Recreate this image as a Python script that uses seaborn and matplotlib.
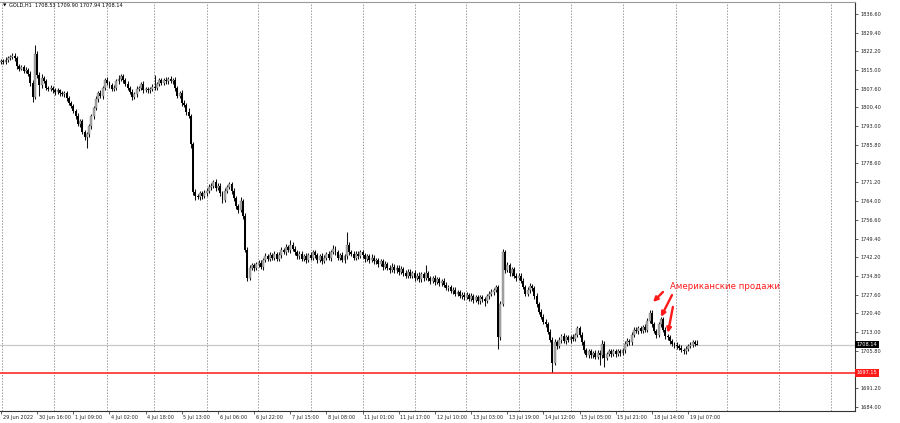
import numpy as np
import pandas as pd
import matplotlib
matplotlib.use("Agg")
import matplotlib.pyplot as plt
import matplotlib.transforms as mtransforms
import seaborn as sns

# ---------------- data ----------------
first_open = 1818.0
closes = [
    1818.5, 1818, 1819, 1819.5, 1820, 1820.5, 1819.5, 1816.5, 1815.5, 1816,
    1814.5, 1815, 1813.5, 1810, 1804.5, 1821, 1813, 1809, 1812, 1810.5,
    1808, 1807.5, 1808, 1807, 1806.5, 1807, 1806, 1805.5, 1806, 1804,
    1802, 1801, 1799, 1797, 1794, 1795, 1791, 1789, 1790, 1793,
    1797, 1800, 1803.5, 1806, 1805, 1808, 1811, 1810, 1809, 1807.5,
    1808, 1810.5, 1811.5, 1812.5, 1811, 1809.5, 1808, 1806.5, 1804.5, 1805.5,
    1807.5, 1808, 1809.5, 1807, 1807.5, 1807, 1807.5, 1808.5, 1808, 1809.5,
    1811, 1810, 1811, 1810.5, 1811.5, 1810.5, 1811, 1808, 1805, 1806,
    1802, 1801.5, 1798.5, 1797, 1786, 1767.5, 1766, 1765.5, 1767, 1766,
    1767, 1768, 1769.5, 1770, 1771.5, 1769, 1770, 1767, 1764.5, 1768,
    1769.5, 1770.5, 1768, 1765, 1762, 1760.5, 1764, 1758, 1745, 1734,
    1738, 1739, 1738, 1739.5, 1740, 1738.5, 1741, 1742.5, 1741.5, 1743,
    1742, 1743.5, 1741.5, 1743, 1745, 1744, 1746, 1745, 1747, 1745.5,
    1744, 1742.5, 1743.5, 1741.5, 1742.5, 1741, 1743, 1742, 1744, 1743,
    1741, 1742.5, 1740.5, 1742, 1743.5, 1742, 1744, 1745.5, 1744, 1742,
    1743, 1741, 1742.5, 1747, 1744, 1743.5, 1742, 1743.5, 1742.5, 1744,
    1743, 1741.5, 1742.5, 1741, 1742, 1740.5, 1741, 1739.5, 1740.5, 1738.5,
    1739.5, 1738, 1737, 1738.5, 1737, 1738, 1736.5, 1737.5, 1736, 1735,
    1736.5, 1735, 1736, 1734, 1735, 1733.5, 1735.5, 1734, 1736, 1734,
    1733, 1734, 1732.5, 1733.5, 1732, 1733, 1731.5, 1730, 1730.5, 1729,
    1729.5, 1728, 1728.5, 1727, 1727.5, 1726.5, 1727.5, 1726, 1727, 1725.5,
    1726.5, 1725, 1726.5, 1726, 1725, 1727, 1728, 1728.5, 1729.5, 1730.5,
    1711, 1724, 1744, 1737, 1739, 1736, 1737.5, 1735, 1734, 1735,
    1733, 1730.5, 1728, 1729.5, 1731, 1730, 1727, 1724, 1721, 1719,
    1717, 1716, 1713, 1710, 1701, 1709, 1707.5, 1710, 1711.5, 1709.5,
    1711, 1710, 1711, 1710.5, 1712, 1714.5, 1712, 1709, 1706, 1704,
    1705.5, 1704, 1705, 1703.5, 1705, 1704, 1708.5, 1703, 1704.5, 1705.5,
    1704.5, 1705.5, 1704.5, 1705.5, 1705, 1706, 1708.5, 1709.5, 1709, 1712,
    1714, 1713.5, 1714.5, 1713.5, 1715, 1714, 1717.5, 1720.5, 1716, 1713.5,
    1712, 1716, 1718, 1714, 1711.5, 1711, 1709.5, 1708.5, 1708, 1707.5,
    1707, 1706, 1705.5, 1706.5, 1707.5, 1708, 1709, 1708.53, 1708.14,
]
wick_up = [
    0.8, 0.6, 1.0, 0.7, 0.9, 1.2, 1.0, 0.8, 0.6, 0.9,
    0.7, 1.0, 0.8, 0.9, 1.2, 3.7, 1.5, 1.0, 1.3, 0.8,
    0.9, 0.7, 1.0, 0.6, 0.8, 1.1, 0.7, 0.9, 0.8, 0.6,
    1.0, 0.8, 0.7, 0.9, 1.2, 0.8, 1.0, 0.7, 0.9, 1.1,
    1.0, 0.8, 1.3, 0.9, 1.2, 0.8, 1.0, 1.1, 0.7, 0.9,
    1.0, 0.8, 1.5, 0.9, 0.7, 0.8, 1.0, 0.6, 0.9, 1.0,
    1.1, 0.8, 0.9, 1.2, 0.7, 0.8, 1.0, 0.9, 4.5, 0.8,
    1.0, 0.9, 0.8, 1.2, 0.7, 1.0, 0.8, 1.1, 0.9, 0.8,
    1.0, 1.2, 0.8, 1.5, 0.9, 1.0, 1.3, 0.8, 1.0, 0.7,
    1.2, 0.9, 1.0, 0.8, 0.6, 1.1, 0.9, 1.0, 0.8, 1.2,
    0.9, 0.8, 1.0, 0.9, 1.1, 0.7, 1.5, 0.9, 1.2, 1.0,
    1.1, 0.9, 1.0, 0.8, 1.2, 0.9, 1.0, 1.3, 0.8, 1.1,
    0.9, 1.0, 0.8, 1.2, 1.0, 0.9, 1.1, 0.8, 2.0, 0.9,
    1.0, 0.8, 1.1, 0.9, 1.0, 1.2, 0.8, 1.0, 0.9, 1.1,
    0.8, 1.0, 1.2, 0.9, 0.8, 1.1, 1.0, 1.5, 0.9, 1.0,
    0.8, 1.1, 0.9, 5.0, 1.0, 0.8, 1.2, 0.9, 1.0, 0.8,
    1.1, 0.9, 1.0, 0.8, 1.2, 0.9, 1.0, 0.8, 1.1, 0.9,
    1.0, 0.8, 0.9, 1.2, 0.8, 1.0, 0.9, 1.1, 0.8, 1.0,
    0.9, 1.1, 0.8, 1.0, 0.9, 1.2, 0.8, 1.0, 3.0, 0.9,
    1.0, 0.8, 1.1, 0.9, 1.0, 0.8, 1.2, 0.9, 1.0, 0.8,
    1.1, 0.9, 1.0, 0.8, 1.2, 0.9, 1.0, 0.8, 1.1, 0.9,
    1.0, 0.8, 0.9, 1.1, 0.8, 1.0, 0.9, 1.2, 0.8, 1.0,
    0.8, 1.0, 1.5, 0.9, 1.2, 0.8, 1.0, 0.9, 1.1, 0.8,
    1.0, 0.9, 0.8, 1.1, 1.0, 0.8, 0.9, 1.2, 0.8, 1.0,
    0.9, 1.0, 0.8, 1.1, 0.9, 1.2, 0.8, 1.0, 0.9, 1.1,
    0.8, 1.0, 0.9, 1.2, 0.8, 0.8, 1.0, 0.9, 1.1, 0.8,
    1.0, 0.9, 0.8, 1.1, 1.0, 0.9, 1.5, 1.0, 0.8, 0.9,
    1.0, 0.8, 0.9, 1.1, 0.8, 1.0, 0.9, 1.2, 0.8, 1.0,
    0.9, 1.1, 0.8, 1.0, 0.9, 1.2, 0.8, 1.1, 1.0, 0.9,
    0.8, 1.0, 1.0, 0.9, 1.1, 0.8, 1.0, 0.9, 0.8, 1.0,
    0.9, 0.8, 1.0, 0.9, 0.8, 1.1, 0.9, 0.8, 1.37,
]
wick_dn = [
    0.7, 0.9, 0.6, 1.0, 0.8, 0.7, 0.9, 1.0, 0.8, 0.7,
    0.9, 0.8, 1.0, 1.2, 2.0, 0.9, 1.0, 4.0, 1.1, 0.8,
    1.0, 0.8, 0.7, 0.9, 1.1, 0.8, 1.0, 0.7, 0.9, 1.2,
    0.8, 1.0, 0.9, 1.1, 0.8, 1.2, 0.9, 1.3, 4.4, 1.0,
    0.9, 1.1, 0.8, 1.0, 0.9, 1.2, 0.8, 1.0, 0.9, 0.7,
    0.8, 1.0, 0.9, 0.8, 1.1, 0.9, 1.0, 0.8, 1.2, 0.9,
    1.0, 0.8, 0.9, 1.1, 0.8, 1.0, 0.9, 0.7, 1.0, 0.8,
    0.9, 1.0, 0.8, 1.1, 0.9, 0.8, 1.0, 1.2, 0.9, 1.0,
    1.1, 0.8, 1.0, 0.9, 1.5, 1.2, 1.5, 0.9, 1.0, 1.3,
    0.8, 1.0, 0.9, 1.1, 0.8, 1.0, 0.9, 1.2, 1.4, 0.9,
    1.0, 0.8, 1.1, 0.9, 1.2, 1.0, 0.9, 1.1, 1.0, 1.3,
    0.9, 1.0, 1.1, 0.8, 1.0, 0.9, 1.2, 0.8, 1.0, 0.9,
    1.1, 0.8, 1.0, 0.9, 1.2, 0.8, 1.0, 0.9, 1.1, 0.8,
    1.0, 1.2, 0.9, 1.0, 0.8, 1.1, 0.9, 1.0, 0.8, 1.2,
    1.0, 0.9, 1.1, 0.8, 1.0, 0.9, 1.2, 0.8, 1.0, 0.9,
    1.1, 0.8, 1.0, 0.9, 1.2, 0.8, 1.0, 0.9, 1.1, 0.8,
    1.0, 1.2, 0.9, 1.0, 0.8, 1.1, 0.9, 1.0, 0.8, 1.2,
    0.9, 1.0, 1.1, 0.8, 1.0, 0.9, 1.2, 0.8, 1.0, 1.1,
    0.8, 1.0, 0.9, 1.2, 0.8, 1.0, 0.9, 1.1, 0.8, 1.0,
    1.2, 0.9, 1.0, 0.8, 1.1, 0.9, 1.0, 0.8, 1.2, 0.9,
    1.0, 0.8, 1.1, 0.9, 1.0, 1.2, 0.8, 1.0, 0.9, 1.1,
    0.8, 1.0, 0.9, 1.2, 2.0, 0.8, 1.0, 0.9, 1.1, 0.8,
    4.5, 1.0, 0.9, 1.1, 0.8, 1.0, 1.2, 0.9, 1.0, 0.8,
    1.1, 0.9, 1.0, 0.8, 1.2, 0.9, 1.0, 1.1, 0.8, 1.0,
    0.9, 1.2, 0.8, 1.0, 3.7, 0.9, 1.0, 0.8, 1.1, 0.9,
    1.0, 0.8, 1.2, 0.9, 1.0, 0.8, 1.1, 0.9, 1.0, 0.8,
    1.2, 0.9, 1.0, 0.8, 1.1, 4.0, 0.9, 3.7, 1.0, 0.8,
    1.1, 0.9, 1.0, 0.8, 1.2, 0.9, 1.0, 0.8, 1.1, 0.9,
    1.0, 0.8, 1.2, 0.9, 1.0, 0.8, 1.1, 0.9, 1.0, 0.8,
    1.2, 0.9, 1.0, 0.8, 1.1, 0.9, 1.0, 0.8, 1.2, 0.9,
    1.0, 0.8, 1.1, 0.9, 1.0, 0.8, 0.9, 1.0, 0.2,
]
time_labels = ["29 Jun 2022", "30 Jun 16:00", "1 Jul 09:00", "4 Jul 02:00",
               "4 Jul 18:00", "5 Jul 13:00", "6 Jul 06:00", "6 Jul 22:00",
               "7 Jul 15:00", "8 Jul 08:00", "11 Jul 01:00", "11 Jul 17:00",
               "12 Jul 10:00", "13 Jul 03:00", "13 Jul 19:00", "14 Jul 12:00",
               "15 Jul 05:00", "15 Jul 21:00", "18 Jul 14:00", "19 Jul 07:00"]
price_ticks = [1836.6, 1829.4, 1822.2, 1815.0, 1807.6, 1800.4, 1793.0, 1785.8,
               1778.6, 1771.2, 1764.0, 1756.6, 1749.4, 1742.2, 1734.8, 1727.6,
               1720.4, 1713.0, 1705.8, 1698.4, 1691.2, 1684.0]
last_price = 1708.14
level_price = 1697.15
header = "GOLD,H1  1708.53 1709.90 1707.94 1708.14"
note_text = "Американские продажи"

# ---------------- build OHLC frame ----------------
n = min(len(closes), len(wick_up), len(wick_dn))
closes = closes[:n]
opens = [first_open] + closes[:-1]
df = pd.DataFrame({"o": opens, "c": closes,
                   "wu": wick_up[:n], "wd": wick_dn[:n]})
df["i"] = np.arange(n)
df["top"] = df[["o", "c"]].max(axis=1)
df["bot"] = df[["o", "c"]].min(axis=1)
df["h"] = df["top"] + df["wu"]
df["l"] = df["bot"] - df["wd"]
df["bull"] = df["c"] >= df["o"]
df["body"] = (df["top"] - df["bot"]).clip(lower=0.35)

# ---------------- figure ----------------
sns.set_theme(style="white")
plt.rcParams["font.family"] = ["DejaVu Sans"]
W, H = 900, 423
fig = plt.figure(figsize=(W / 100, H / 100), dpi=100)
fig.patch.set_facecolor("white")
ax = fig.add_axes([0, 12 / H, 855 / W, (411 - 2) / H])
ax.set_facecolor("white")

bar_px = 2.26
ax.set_xlim(-1 / bar_px, 854 / bar_px)
ax.set_ylim(1682.3, 1841.4)

# vertical dotted grid (terminal's own spacing)
for gx in [0.3, 23.5, 46.9, 67.7, 91.2, 113.7, 137.2, 160.2, 183.2, 205.8,
           229.2, 252.2, 275.2, 298.7, 321.2, 344.2, 367.3]:
    ax.axvline(gx, color="#9a9a9a", lw=0.7, ls=(0, (1.5, 1.5)), zorder=0)

# horizontal lines
ax.axhline(last_price, color="#c8c8c8", lw=0.9, zorder=1)
ax.axhline(level_price, color="#ff1a1a", lw=1.1, zorder=1)

# candles: wicks + bodies
ax.vlines(df["i"], df["l"], df["h"], color="#111111", lw=0.75, zorder=2)
bull = df[df["bull"]]
bear = df[~df["bull"]]
ax.bar(bull["i"], bull["body"], bottom=bull["bot"], width=0.85,
       color="#a9a9a9", edgecolor="#6a6a6a", linewidth=0.25, zorder=3)
ax.bar(bear["i"], bear["body"], bottom=bear["bot"], width=0.85,
       color="#000000", linewidth=0, zorder=3)

# axes styling
ax.spines["left"].set_visible(False)
ax.spines["top"].set_color("#9a9a9a")
ax.spines["top"].set_linewidth(0.8)
for s in ["right", "bottom"]:
    ax.spines[s].set_color("#333333")
    ax.spines[s].set_linewidth(0.8)

ax.yaxis.tick_right()
ax.set_yticks(price_ticks)
ax.set_yticklabels(["" if abs(v - level_price) < 2 else f"{v:.2f}"
                    for v in price_ticks])
ax.tick_params(axis="y", which="both", right=True, left=False, length=2.2,
               width=0.5, pad=1.5, labelsize=3.6, colors="#222222")

xt = np.arange(len(time_labels)) * 16
ax.set_xticks(xt)
ax.set_xticklabels(time_labels, ha="left")
ax.tick_params(axis="x", which="both", bottom=True, length=2.2, width=0.5,
               pad=0.8, labelsize=3.6, colors="#222222")
offset = mtransforms.ScaledTranslation(1.2 / 72, 0, fig.dpi_scale_trans)
for lab in ax.get_xticklabels():
    lab.set_transform(lab.get_transform() + offset)
ax.grid(False)

# price tags on right axis
trans = mtransforms.blended_transform_factory(ax.transAxes, ax.transData)
ax.text(1.002, last_price, f"{last_price:.2f}", transform=trans, fontsize=3.6,
        color="white", va="center", ha="left", zorder=5, clip_on=False,
        bbox=dict(boxstyle="square,pad=0.25", fc="black", ec="black", lw=0))
ax.text(1.002, level_price, f"{level_price:.2f}", transform=trans, fontsize=3.6,
        color="white", va="center", ha="left", zorder=5, clip_on=False,
        bbox=dict(boxstyle="square,pad=0.25", fc="#ff1a1a", ec="#ff1a1a", lw=0))

# header
fig.text(3 / W, 1 - 5.5 / H, "\u25BC", fontsize=3.2, color="black",
         va="center", ha="left")
fig.text(9 / W, 1 - 5.5 / H, header, fontsize=3.6, color="black",
         va="center", ha="left")

# annotation: text and red arrows
ax.text(295.8, 1730.6, note_text, color="#ff1a1a", fontsize=6.2,
        va="center", ha="left", zorder=6)
arrows = [((292.9, 1728.6), (288.5, 1724.7)),
          ((296.9, 1727.4), (292.0, 1718.9)),
          ((297.3, 1722.8), (295.1, 1712.7))]
for tail, head in arrows:
    ax.annotate("", xy=head, xytext=tail,
                arrowprops=dict(arrowstyle="-|>", color="#ff1a1a", lw=1.7,
                                mutation_scale=6.5, shrinkA=0, shrinkB=0),
                zorder=6)

fig.savefig("out.png", dpi=100)
